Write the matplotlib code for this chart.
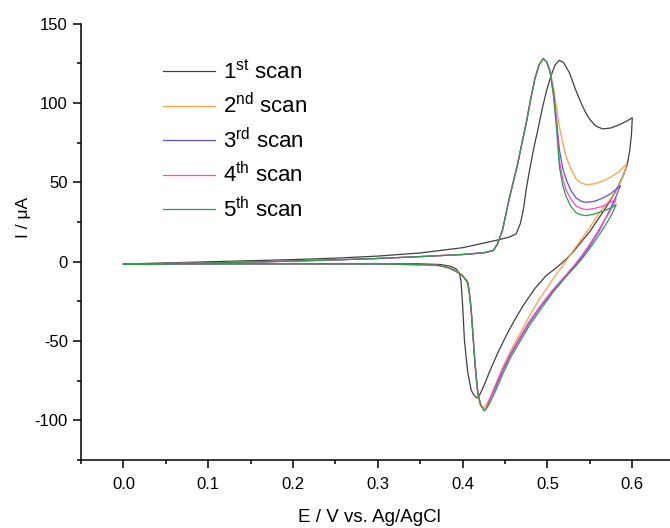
import matplotlib
matplotlib.use("Agg")
import matplotlib.pyplot as plt
from matplotlib.ticker import MultipleLocator

plt.rcParams['font.family'] = ['Liberation Sans', 'DejaVu Sans']
plt.rcParams['mathtext.default'] = 'regular'
plt.rcParams['axes.unicode_minus'] = False

# potential (V) and current (uA) along each scan, forward then reverse
scan1_e = [0.000, 0.050, 0.100, 0.150, 0.200, 0.250, 0.300, 0.350, 0.400, 0.440, 0.455, 0.463,
           0.468, 0.472, 0.475, 0.479, 0.484, 0.489, 0.494, 0.499, 0.504, 0.509, 0.514, 0.519,
           0.526, 0.532, 0.538, 0.544, 0.550, 0.557, 0.565, 0.575, 0.585, 0.593, 0.600,
           0.599, 0.597, 0.594, 0.589, 0.580, 0.570, 0.560, 0.550, 0.540, 0.530, 0.520, 0.510,
           0.498, 0.485, 0.471, 0.460, 0.451, 0.441, 0.432, 0.426, 0.421, 0.417, 0.413, 0.410,
           0.406, 0.404, 0.402, 0.400, 0.398, 0.396, 0.392, 0.385, 0.373, 0.350, 0.300, 0.200,
           0.100, 0.000]
scan1_i = [-1.5, -0.8, -0.1, 0.6, 1.3, 2.2, 3.5, 5.5, 8.8, 13.5, 15.5, 17.5,
           24, 34, 46, 58, 72, 84, 97, 108, 117, 124, 127, 125.5,
           119, 110, 102, 95, 89.6, 85.5, 83.7, 84.3, 86.4, 88.5, 90.7,
           80, 70, 61, 54, 44, 35, 27, 19, 12.5, 6, 0.5, -4,
           -9, -17, -28, -38, -47, -58, -69, -77, -83, -86, -84, -81,
           -70, -60, -49, -28, -12, -7, -4.5, -2.8, -1.8, -1.4, -1.2, -1.2,
           -1.3, -1.5]

scan2_e = [0.000, 0.050, 0.100, 0.150, 0.200, 0.250, 0.300, 0.350, 0.400, 0.425, 0.436, 0.441,
           0.447, 0.451, 0.455, 0.460, 0.465, 0.470, 0.475, 0.480, 0.485, 0.490, 0.495, 0.499,
           0.503, 0.507, 0.511, 0.514, 0.518, 0.522, 0.528, 0.534, 0.540, 0.546, 0.555, 0.565,
           0.575, 0.585, 0.5935,
           0.590, 0.585, 0.575, 0.561, 0.548, 0.534, 0.520, 0.506, 0.490, 0.478, 0.467, 0.456,
           0.447, 0.439, 0.432, 0.428, 0.4245, 0.421, 0.418, 0.416, 0.414, 0.412, 0.410, 0.408,
           0.405, 0.399, 0.392, 0.384, 0.373, 0.360, 0.300, 0.200, 0.100, 0.000]
scan2_i = [-1.6, -1.2, -0.8, -0.3, 0.4, 1.1, 2.0, 3.2, 4.5, 5.6, 7.0, 11,
           20, 30, 40, 51, 62, 75, 87.5, 102, 115, 124, 128, 126,
           120, 110, 96, 85, 75, 66, 58, 52, 49.5, 48.6, 49, 50.7,
           53.5, 57, 61.8,
           55, 49, 40, 30.7, 20, 9.7, -1, -11.4, -24, -35, -46, -57,
           -67, -77, -86, -90, -92, -91, -85, -75, -62, -47, -32, -21,
           -13, -8, -5.5, -3.5, -2.5, -2, -1.5, -1.3, -1.4, -1.6]

scan3_e = [0.000, 0.050, 0.100, 0.150, 0.200, 0.250, 0.300, 0.350, 0.400, 0.425, 0.436, 0.441,
           0.447, 0.451, 0.455, 0.460, 0.465, 0.470, 0.475, 0.480, 0.485, 0.490, 0.495, 0.499,
           0.503, 0.507, 0.511, 0.514, 0.518, 0.522, 0.528, 0.534, 0.540, 0.546, 0.555, 0.565,
           0.575, 0.586,
           0.580, 0.572, 0.561, 0.550, 0.542, 0.534, 0.522, 0.507, 0.491, 0.478, 0.467, 0.456,
           0.447, 0.439, 0.432, 0.428, 0.4255, 0.421, 0.418, 0.416, 0.414, 0.412, 0.410, 0.408,
           0.406, 0.400, 0.392, 0.384, 0.373, 0.360, 0.300, 0.200, 0.100, 0.000]
scan3_i = [-1.6, -1.2, -0.8, -0.3, 0.4, 1.1, 2.0, 3.2, 4.5, 5.6, 7.0, 11,
           20, 30, 40, 51, 62, 75, 87.5, 102, 115, 124, 128, 126,
           120, 107, 88, 70.7, 59, 51.7, 44.5, 40, 38, 37.4, 38, 40,
           43, 48,
           40, 31, 19.5, 10, 4, -1.5, -9, -18, -29, -39, -49, -59,
           -69, -79, -87, -92, -94, -90, -83, -73, -60, -45, -30, -20,
           -13, -9, -6, -4, -2.5, -2, -1.5, -1.4, -1.4, -1.6]

scan4_e = [0.000, 0.050, 0.100, 0.150, 0.200, 0.250, 0.300, 0.350, 0.400, 0.425, 0.436, 0.441,
           0.447, 0.451, 0.455, 0.460, 0.465, 0.470, 0.475, 0.480, 0.485, 0.490, 0.495, 0.499,
           0.503, 0.507, 0.511, 0.514, 0.518, 0.522, 0.528, 0.534, 0.540, 0.546, 0.555, 0.565,
           0.573, 0.581,
           0.575, 0.566, 0.556, 0.548, 0.540, 0.532, 0.520, 0.505, 0.490, 0.477, 0.466, 0.455,
           0.446, 0.438, 0.432, 0.428, 0.4255, 0.421, 0.418, 0.416, 0.414, 0.412, 0.410, 0.408,
           0.406, 0.400, 0.392, 0.384, 0.373, 0.360, 0.300, 0.200, 0.100, 0.000]
scan4_i = [-1.6, -1.2, -0.8, -0.3, 0.4, 1.1, 2.0, 3.2, 4.5, 5.6, 7.0, 11,
           20, 30, 40, 51, 62, 75, 87.5, 102, 115, 124, 128, 126,
           120, 106, 85, 64, 52, 45, 39, 35, 33.5, 32.8, 33.5, 35,
           37, 39.5,
           33, 25, 16, 9.5, 3.5, -2, -9.5, -18.5, -29, -39, -49, -59,
           -69, -79, -87, -92, -94, -90, -83, -73, -60, -45, -30, -20,
           -13, -9, -6, -4, -2.5, -2, -1.5, -1.4, -1.4, -1.6]

scan5_e = [0.000, 0.050, 0.100, 0.150, 0.200, 0.250, 0.300, 0.350, 0.400, 0.425, 0.436, 0.441,
           0.447, 0.451, 0.455, 0.460, 0.465, 0.470, 0.475, 0.480, 0.485, 0.490, 0.495, 0.499,
           0.503, 0.507, 0.511, 0.514, 0.518, 0.522, 0.528, 0.534, 0.540, 0.546, 0.555, 0.565,
           0.575, 0.581,
           0.575, 0.566, 0.556, 0.548, 0.541, 0.533, 0.521, 0.507, 0.492, 0.479, 0.468, 0.457,
           0.448, 0.440, 0.433, 0.429, 0.4255, 0.421, 0.418, 0.416, 0.414, 0.412, 0.410, 0.408,
           0.406, 0.400, 0.392, 0.384, 0.373, 0.360, 0.300, 0.200, 0.100, 0.000]
scan5_i = [-1.6, -1.2, -0.8, -0.3, 0.4, 1.1, 2.0, 3.2, 4.5, 5.6, 7.0, 11,
           20, 30, 40, 51, 62, 75, 87.5, 102, 115, 124, 128, 126,
           120, 105, 82, 60, 48, 41, 34.5, 30.7, 29.5, 29, 30, 31.7,
           34, 36,
           29, 21, 13, 7, 2, -3, -10, -19, -30, -40, -50, -60,
           -70, -80, -88, -92, -94, -90, -83, -73, -60, -45, -30, -20,
           -13, -9, -6, -4, -2.5, -2, -1.5, -1.4, -1.4, -1.6]

labels = ['1$^{st}$ scan', '2$^{nd}$ scan', '3$^{rd}$ scan', '4$^{th}$ scan', '5$^{th}$ scan']
colors = ['#404040', '#ff9f45', '#5a50e6', '#ff45d2', '#2f9a48']

fig = plt.figure(figsize=(6.7, 5.28), dpi=100)
ax = fig.add_axes([0.121, 0.129, 0.886, 0.826])

scans = [(scan1_e, scan1_i), (scan2_e, scan2_i), (scan3_e, scan3_i),
         (scan4_e, scan4_i), (scan5_e, scan5_i)]
for (e, i), lab, col in zip(scans, labels, colors):
    ax.plot(e, i, color=col, lw=0.9, label=lab)

ax.set_xlim(-0.05, 0.65)
ax.set_ylim(-125, 150)
ax.spines['top'].set_visible(False)
ax.spines['right'].set_visible(False)
for side in ('left', 'bottom'):
    ax.spines[side].set_linewidth(1.1)
ax.xaxis.set_major_locator(MultipleLocator(0.1))
ax.xaxis.set_minor_locator(MultipleLocator(0.05))
ax.yaxis.set_major_locator(MultipleLocator(50))
ax.yaxis.set_minor_locator(MultipleLocator(25))
ax.xaxis.set_major_formatter(plt.FuncFormatter(lambda v, p: '{:.1f}'.format(v)))
ax.tick_params(which='major', direction='out', length=6, width=1.1, labelsize=12)
ax.tick_params(which='minor', direction='out', length=3, width=1.1)
ax.tick_params(axis='x', which='major', pad=6)
ax.tick_params(axis='y', which='major', pad=3.5)

ax.set_xlabel('E / V vs. Ag/AgCl', fontsize=13.5)
ax.set_ylabel('I / \u03bcA', fontsize=12.5)
ax.xaxis.set_label_coords(0.485, -0.112)
ax.yaxis.set_label_coords(-0.085, 0.557)

ax.legend(loc='upper left', bbox_to_anchor=(0.138, 0.917), frameon=False,
          borderpad=0, borderaxespad=0, fontsize=16, handlelength=2.34,
          labelspacing=0.42, handletextpad=0.35)

fig.savefig('out.png', dpi=100)
